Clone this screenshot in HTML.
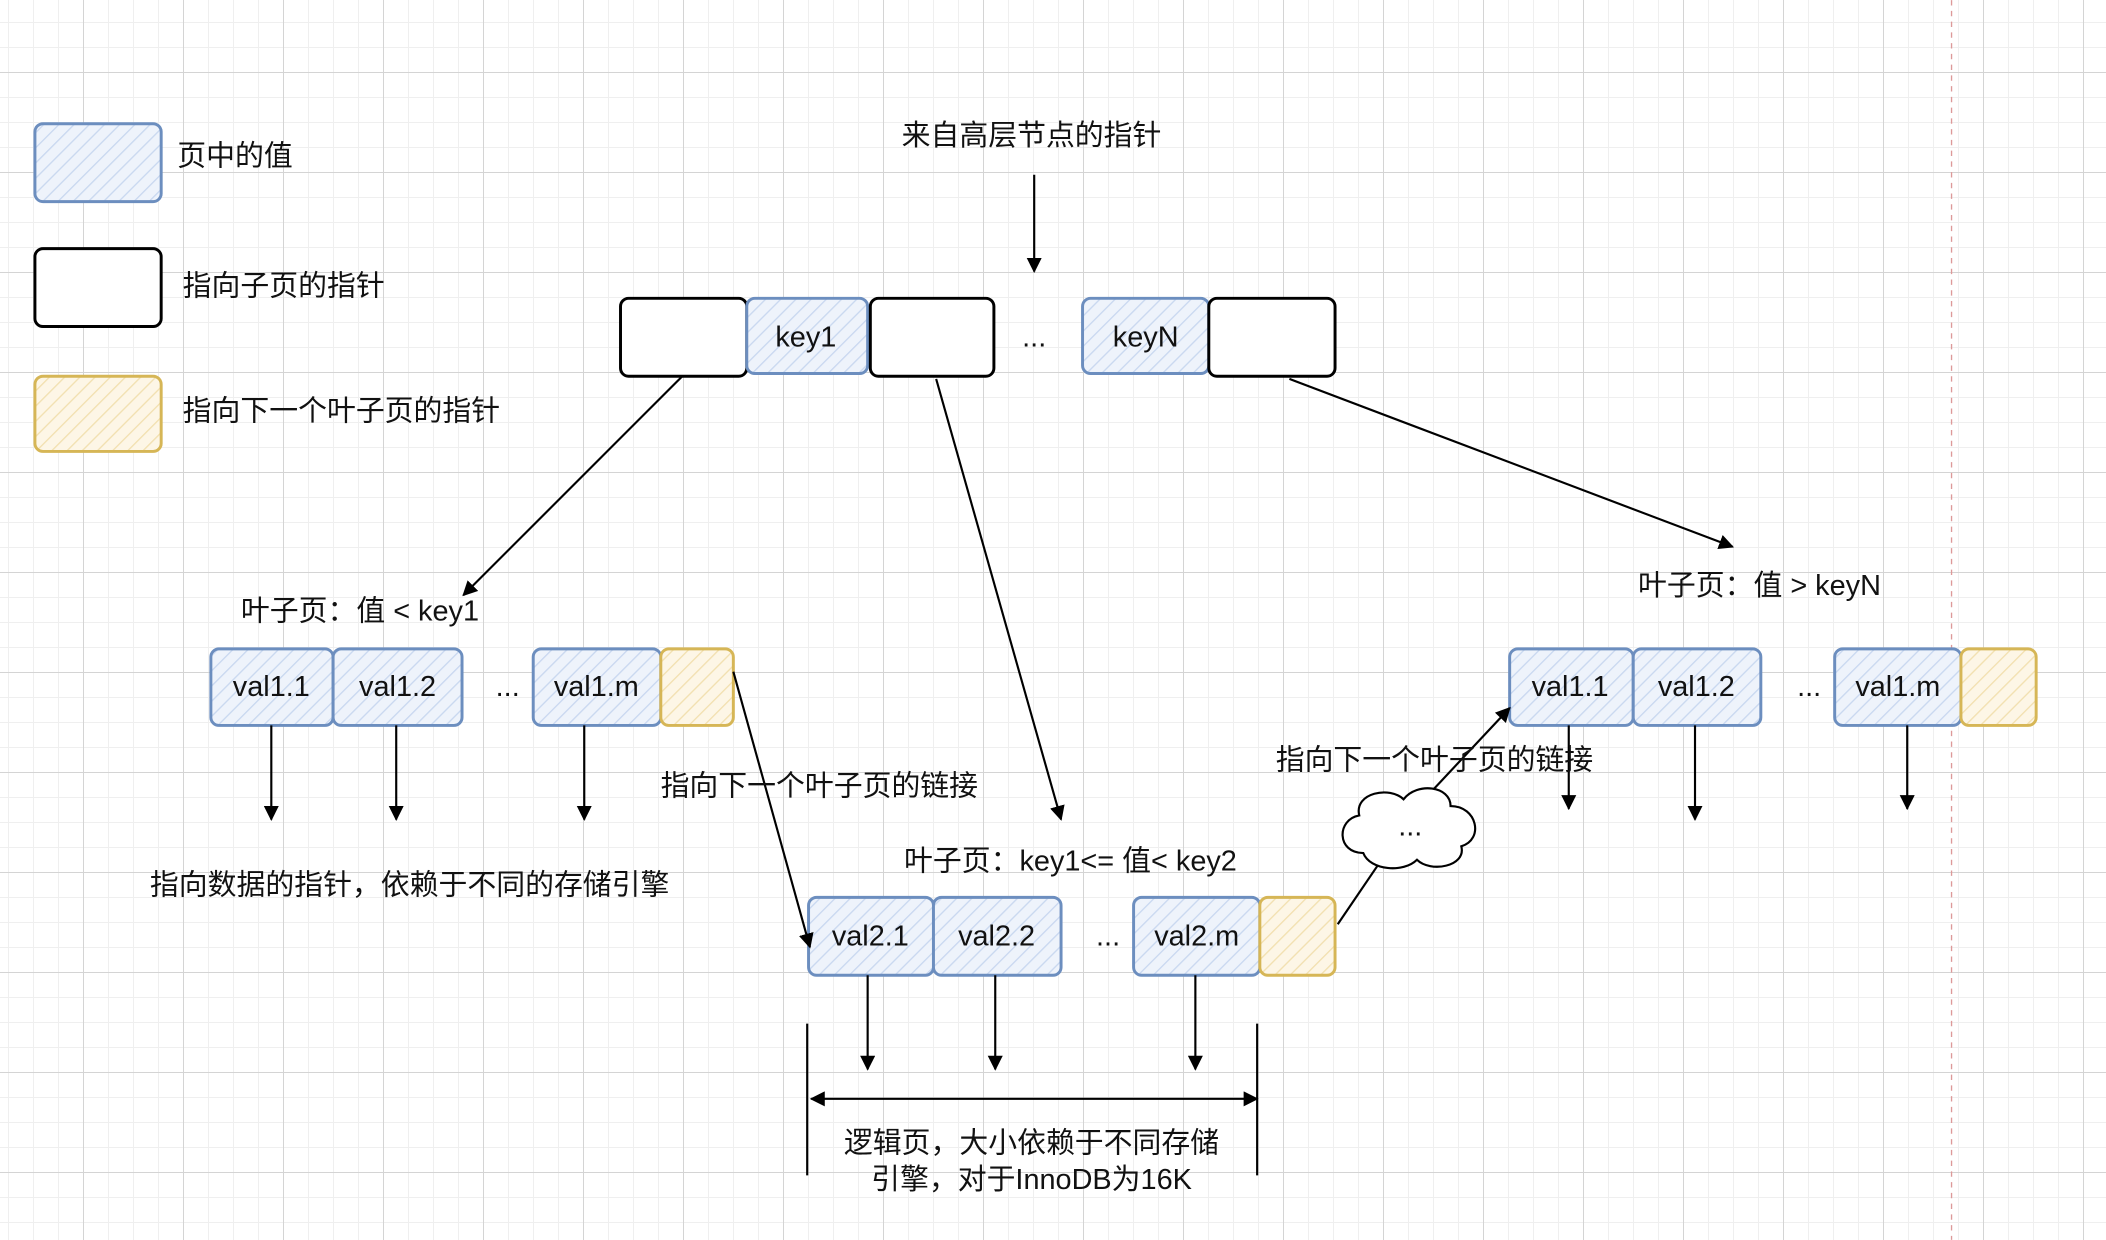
<!DOCTYPE html>
<html><head><meta charset="utf-8"><style>
html,body{margin:0;padding:0}
body{width:2106px;height:1240px;overflow:hidden;background-color:#fff;
background-image:
linear-gradient(to right,#d4d4d4 1px,transparent 1px),
linear-gradient(to bottom,#d4d4d4 1px,transparent 1px),
linear-gradient(to right,#efefef 1px,transparent 1px),
linear-gradient(to bottom,#efefef 1px,transparent 1px);
background-size:100px 100px,100px 100px,25px 25px,25px 25px;
background-position:83px 72px,83px 72px,8px 22px,8px 22px;}
svg{position:absolute;left:0;top:0}
text{font-family:"Liberation Sans","Noto Sans CJK SC",sans-serif;font-size:21.5px;fill:#111}
</style></head><body>
<svg width="2106" height="1240" viewBox="0 0 1568 923">
<defs>
<pattern id="hb" width="8" height="8" patternUnits="userSpaceOnUse" patternTransform="rotate(45)"><rect width="8" height="8" fill="#eef3fb"/><line x1="0" y1="0" x2="0" y2="8" stroke="#c9d8f0" stroke-width="2"/></pattern>
<pattern id="hy" width="8" height="8" patternUnits="userSpaceOnUse" patternTransform="rotate(45)"><rect width="8" height="8" fill="#fdf6e6"/><line x1="0" y1="0" x2="0" y2="8" stroke="#f2e0b0" stroke-width="2"/></pattern>
<marker id="a" viewBox="0 0 10 10" refX="9" refY="5" markerWidth="7" markerHeight="7" orient="auto-start-reverse"><path d="M0,0 L10,5 L0,10 Z" fill="#000"/></marker>
</defs>
<line x1="1453" y1="0" x2="1453" y2="923" stroke="#d99" stroke-dasharray="4,4"/>
<g stroke-width="2.2">
<rect x="26" y="92" width="94" height="58" rx="6" fill="url(#hb)" stroke="#6c8ebf"/>
<rect x="26" y="185" width="94" height="58" rx="6" fill="#fff" stroke="#000"/>
<rect x="26" y="280" width="94" height="56" rx="6" fill="url(#hy)" stroke="#d6b656"/>
<rect x="462" y="222" width="94" height="58" rx="6" fill="#fff" stroke="#000"/>
<rect x="556" y="222" width="90" height="56" rx="6" fill="url(#hb)" stroke="#6c8ebf"/>
<rect x="648" y="222" width="92" height="58" rx="6" fill="#fff" stroke="#000"/>
<rect x="806" y="222" width="94" height="56" rx="6" fill="url(#hb)" stroke="#6c8ebf"/>
<rect x="900" y="222" width="94" height="58" rx="6" fill="#fff" stroke="#000"/>
<rect x="157" y="483" width="91" height="57" rx="6" fill="url(#hb)" stroke="#6c8ebf"/>
<rect x="248" y="483" width="96" height="57" rx="6" fill="url(#hb)" stroke="#6c8ebf"/>
<rect x="397" y="483" width="95" height="57" rx="6" fill="url(#hb)" stroke="#6c8ebf"/>
<rect x="492" y="483" width="54" height="57" rx="6" fill="url(#hy)" stroke="#d6b656"/>
<rect x="602" y="668" width="93" height="58" rx="6" fill="url(#hb)" stroke="#6c8ebf"/>
<rect x="695" y="668" width="95" height="58" rx="6" fill="url(#hb)" stroke="#6c8ebf"/>
<rect x="844" y="668" width="94" height="58" rx="6" fill="url(#hb)" stroke="#6c8ebf"/>
<rect x="938" y="668" width="56" height="58" rx="6" fill="url(#hy)" stroke="#d6b656"/>
<rect x="1124" y="483" width="92" height="57" rx="6" fill="url(#hb)" stroke="#6c8ebf"/>
<rect x="1216" y="483" width="95" height="57" rx="6" fill="url(#hb)" stroke="#6c8ebf"/>
<rect x="1366" y="483" width="94" height="57" rx="6" fill="url(#hb)" stroke="#6c8ebf"/>
<rect x="1460" y="483" width="56" height="57" rx="6" fill="url(#hy)" stroke="#d6b656"/>
</g>
<g stroke="#000" stroke-width="1.6" fill="none" marker-end="url(#a)">
<line x1="770" y1="130" x2="770" y2="202"/>
<line x1="508" y1="280" x2="345" y2="443"/>
<line x1="697" y1="282" x2="790" y2="610"/>
<line x1="960" y1="282" x2="1290" y2="407"/>
<line x1="202" y1="540" x2="202" y2="610"/>
<line x1="295" y1="540" x2="295" y2="610"/>
<line x1="435" y1="540" x2="435" y2="610"/>
<line x1="546" y1="500" x2="603" y2="705"/>
<line x1="646" y1="726" x2="646" y2="796"/>
<line x1="741" y1="726" x2="741" y2="796"/>
<line x1="890" y1="726" x2="890" y2="796"/>
<line x1="1168" y1="540" x2="1168" y2="602"/>
<line x1="1262" y1="540" x2="1262" y2="610"/>
<line x1="1420" y1="540" x2="1420" y2="602"/>
<line x1="1065" y1="590" x2="1124" y2="527"/>
<line x1="604" y1="818" x2="936" y2="818" marker-start="url(#a)"/>
</g>
<g stroke="#000" stroke-width="1.6" fill="none">
<line x1="996" y1="688" x2="1030" y2="638"/>
<line x1="601" y1="762" x2="601" y2="875"/>
<line x1="936" y1="762" x2="936" y2="875"/>
<path d="M1015,635 C995,635 995,610 1012,607 C1008,590 1035,585 1045,595 C1055,582 1080,585 1080,600 C1100,600 1105,625 1088,630 C1092,645 1065,650 1055,640 C1045,650 1020,648 1015,635 Z" fill="#fff"/>
</g>
<g>
<text x="132" y="123">页中的值</text>
<text x="136" y="220">指向子页的指针</text>
<text x="136" y="313">指向下一个叶子页的指针</text>
<text x="768" y="108" text-anchor="middle">来自高层节点的指针</text>
<text x="600" y="258" text-anchor="middle">key1</text>
<text x="770" y="258" text-anchor="middle">...</text>
<text x="853" y="258" text-anchor="middle">keyN</text>
<text x="268" y="462" text-anchor="middle">叶子页：值 &lt; key1</text>
<text x="202" y="518" text-anchor="middle">val1.1</text>
<text x="296" y="518" text-anchor="middle">val1.2</text>
<text x="378" y="518" text-anchor="middle">...</text>
<text x="444" y="518" text-anchor="middle">val1.m</text>
<text x="305" y="666" text-anchor="middle">指向数据的指针，依赖于不同的存储引擎</text>
<text x="610" y="592" text-anchor="middle">指向下一个叶子页的链接</text>
<text x="797" y="648" text-anchor="middle">叶子页：key1&lt;= 值&lt; key2</text>
<text x="648" y="704" text-anchor="middle">val2.1</text>
<text x="742" y="704" text-anchor="middle">val2.2</text>
<text x="825" y="704" text-anchor="middle">...</text>
<text x="891" y="704" text-anchor="middle">val2.m</text>
<text x="768" y="858" text-anchor="middle">逻辑页，大小依赖于不同存储</text>
<text x="768" y="885" text-anchor="middle">引擎，对于InnoDB为16K</text>
<text x="1310" y="443" text-anchor="middle">叶子页：值 &gt; keyN</text>
<text x="1169" y="518" text-anchor="middle">val1.1</text>
<text x="1263" y="518" text-anchor="middle">val1.2</text>
<text x="1347" y="518" text-anchor="middle">...</text>
<text x="1413" y="518" text-anchor="middle">val1.m</text>
<text x="1068" y="573" text-anchor="middle">指向下一个叶子页的链接</text>
<text x="1050" y="622" text-anchor="middle">...</text>
</g>
</svg>
</body></html>
